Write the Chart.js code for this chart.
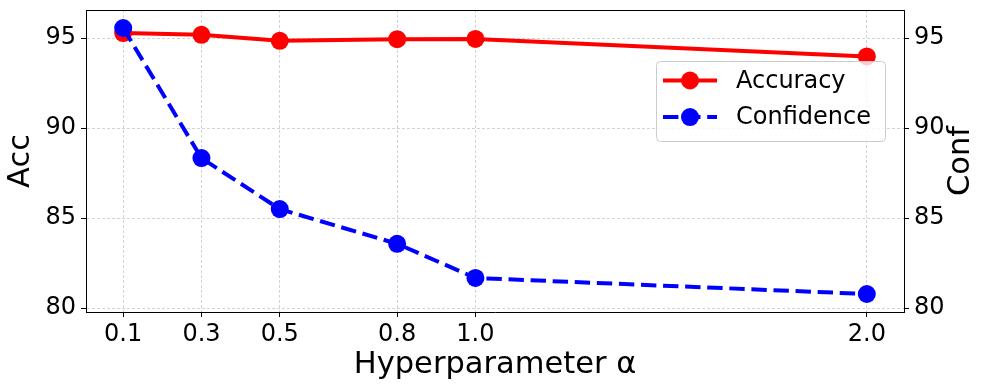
<!DOCTYPE html>
<html>
<head>
<meta charset="utf-8">
<script src="https://cdn.jsdelivr.net/npm/chart.js@4"></script>
<style>
  html, body { margin: 0; padding: 0; background: #fff; }
  #wrap { width: 989px; height: 390px; }
</style>
</head>
<body>
<div id="wrap"><canvas id="chart"></canvas></div>
<script>
const alphas = [0.1, 0.3, 0.5, 0.8, 1.0, 2.0];
const accuracy = [95.28, 95.18, 94.85, 94.94, 94.95, 93.98];
const confidence = [95.56, 88.33, 85.5, 83.57, 81.67, 80.78];
const yTicks = [80, 85, 90, 95];

const FONT = "'DejaVu Sans', sans-serif";
const DASH = [15.4, 6.7];

// matplotlib style limits: margins on x, +/-1 on y
const allY = accuracy.concat(confidence);
const yMin = Math.min(...allY) - 1;
const yMax = Math.max(...allY) + 1;
const xPad = (alphas[alphas.length - 1] - alphas[0]) * 0.05;

const gridStyle = {
  color: "rgba(176,176,176,0.7)",
  lineWidth: 0.8,
  tickColor: "#000",
  tickLength: 5,
  tickWidth: 1
};

// fixed box sizes so the plot area lands where it should
const fixY = (w) => (s) => { s.width = w; s.paddingTop = 0; s.paddingBottom = 0; };

// legend box and right hand title, plus the top spine
const extras = {
  id: "extras",
  afterDraw(chart) {
    const ctx = chart.ctx;
    const a = chart.chartArea;
    ctx.save();
    ctx.strokeStyle = "#000";
    ctx.lineWidth = 1;
    ctx.beginPath();
    ctx.moveTo(a.left, a.top + 0.5);
    ctx.lineTo(a.right, a.top + 0.5);
    ctx.stroke();

    // legend
    const bx = a.right - 248, by = a.top + 51, bw = 229, bh = 80;
    ctx.beginPath();
    ctx.roundRect(bx + 0.5, by + 0.5, bw, bh, 4);
    ctx.fillStyle = "rgba(255,255,255,0.8)";
    ctx.fill();
    ctx.strokeStyle = "#cccccc";
    ctx.stroke();
    chart.data.datasets.forEach((ds, i) => {
      const y = by + 19.5 + i * 36.6;
      ctx.strokeStyle = ds.borderColor;
      ctx.lineWidth = ds.borderWidth;
      ctx.setLineDash(ds.borderDash || []);
      ctx.beginPath();
      ctx.moveTo(bx + 7, y);
      ctx.lineTo(bx + 61, y);
      ctx.stroke();
      ctx.setLineDash([]);
      ctx.fillStyle = ds.pointBackgroundColor;
      ctx.beginPath();
      ctx.arc(bx + 34, y, ds.pointRadius, 0, Math.PI * 2);
      ctx.fill();
      ctx.fillStyle = "#000";
      ctx.font = "24px " + FONT;
      ctx.textBaseline = "middle";
      ctx.textAlign = "left";
      ctx.fillText(ds.label, bx + 80, y + 1);
    });

    // "Conf", reading bottom to top
    ctx.translate(961, (a.top + a.bottom) / 2);
    ctx.rotate(-Math.PI / 2);
    ctx.fillStyle = "#000";
    ctx.font = "30.5px " + FONT;
    ctx.textAlign = "center";
    ctx.textBaseline = "middle";
    ctx.fillText("Conf", 0, 0);
    ctx.restore();
  }
};

new Chart(document.getElementById("chart"), {
  type: "line",
  data: {
    datasets: [
      {
        label: "Accuracy",
        data: alphas.map((x, i) => ({ x: x, y: accuracy[i] })),
        yAxisID: "y",
        borderColor: "#ff0000",
        backgroundColor: "#ff0000",
        pointBackgroundColor: "#ff0000",
        borderWidth: 4,
        pointRadius: 9,
        pointBorderWidth: 0,
        tension: 0,
        order: 2
      },
      {
        label: "Confidence",
        data: alphas.map((x, i) => ({ x: x, y: confidence[i] })),
        yAxisID: "y2",
        borderColor: "#0000ff",
        backgroundColor: "#0000ff",
        pointBackgroundColor: "#0000ff",
        borderWidth: 4,
        borderDash: DASH,
        pointRadius: 9,
        pointBorderWidth: 0,
        tension: 0,
        order: 1
      }
    ]
  },
  options: {
    responsive: true,
    maintainAspectRatio: false,
    animation: false,
    events: [],
    layout: { padding: { top: 10, left: 0, right: 0, bottom: 0 } },
    plugins: {
      legend: { display: false },
      tooltip: { enabled: false }
    },
    scales: {
      x: {
        type: "linear",
        min: alphas[0] - xPad,
        max: alphas[alphas.length - 1] + xPad,
        afterBuildTicks: (s) => { s.ticks = alphas.map((v) => ({ value: v })); },
        afterFit: (s) => { s.height = 78; s.paddingLeft = 0; s.paddingRight = 0; },
        grid: gridStyle,
        border: { color: "#000", width: 1, dash: [3, 2] },
        ticks: {
          color: "#000",
          padding: 3,
          maxRotation: 0,
          font: { family: FONT, size: 24 },
          callback: (v) => Number(v).toFixed(1)
        },
        title: {
          display: true,
          text: "Hyperparameter α",
          color: "#000",
          font: { family: FONT, size: 30.5, lineHeight: 1.2 },
          padding: { top: 0, bottom: 7 }
        }
      },
      y: {
        position: "left",
        min: yMin,
        max: yMax,
        afterBuildTicks: (s) => { s.ticks = yTicks.map((v) => ({ value: v })); },
        afterFit: fixY(86),
        grid: gridStyle,
        border: { color: "#000", width: 1, dash: [3, 2] },
        ticks: {
          color: "#000",
          padding: 5,
          font: { family: FONT, size: 24 }
        },
        title: {
          display: true,
          text: "Acc",
          color: "#000",
          font: { family: FONT, size: 30.5, lineHeight: 1.2 },
          padding: { top: 3, bottom: 0 }
        }
      },
      y2: {
        position: "right",
        min: yMin,
        max: yMax,
        afterBuildTicks: (s) => { s.ticks = yTicks.map((v) => ({ value: v })); },
        afterFit: fixY(85),
        grid: Object.assign({}, gridStyle, { drawOnChartArea: false }),
        border: { color: "#000", width: 1 },
        ticks: {
          color: "#000",
          padding: 5,
          font: { family: FONT, size: 24 }
        }
      }
    }
  },
  plugins: [extras]
});
</script>
</body>
</html>
